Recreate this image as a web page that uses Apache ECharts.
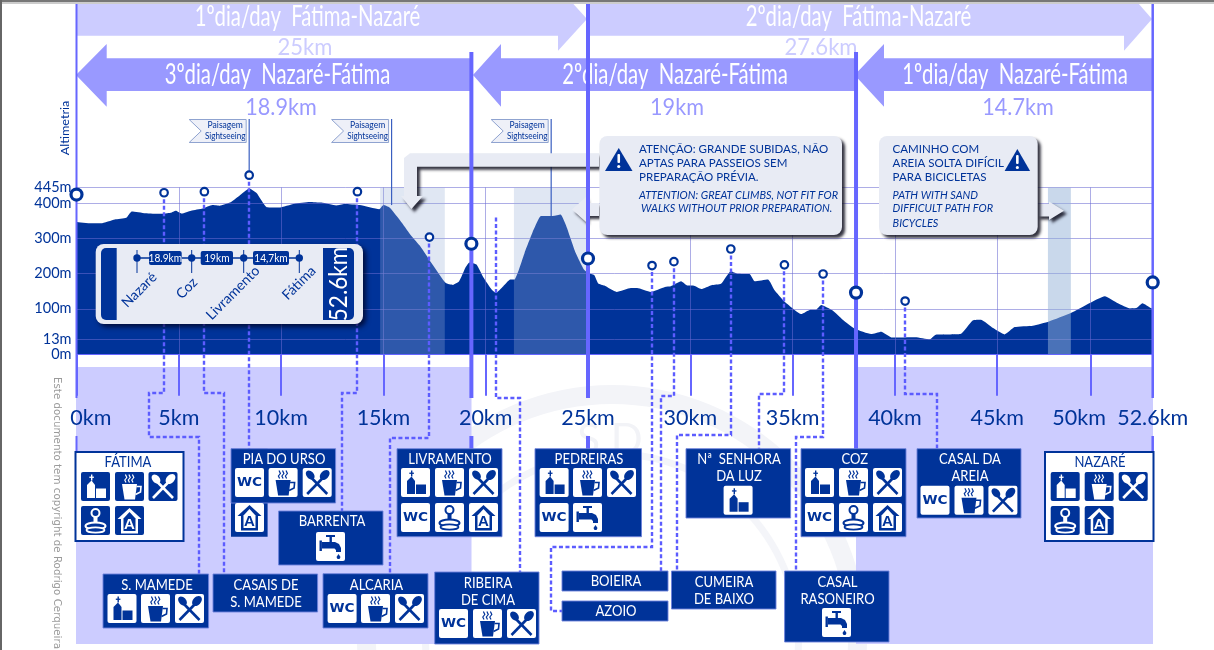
<!DOCTYPE html>
<html><head><meta charset="utf-8">
<style>html,body{margin:0;padding:0;background:#fff}#c{width:1214px;height:650px}</style>
<script src="https://cdn.jsdelivr.net/npm/echarts@6/dist/echarts.min.js"></script>
</head><body><div id="c"></div>
<script>
// ---- data ----
const profileKm=[0,.75,1.2,1.87,2.43,2.7,3.37,4.1,4.6,4.86,5.14,5.6,6.17,6.64,7,7.5,7.95,8.45,8.8,9.3,9.9,10.65,11.4,11.97,12.7,13.1,13.84,14.8,15,15.3,15.9,16.37,16.8,17.4,18.05,18.4,18.7,19,19.2,19.55,19.9,20.3,20.5,20.86,21.2,21.4,21.9,22.35,22.7,23.3,23.66,23.94,24.4,24.8,25,25.3,25.5,25.8,26.4,27.1,27.4,28.07,28.76,29.05,29.55,29.85,30.14,30.54,31.03,31.5,31.98,32.3,32.9,33.15,33.8,34.1,34.6,35.44,35.87,36.13,36.4,36.96,37.45,38.05,38.84,39.33,39.87,41,41.7,42,43.2,43.8,44.2,44.8,45.36,45.85,46.74,47.53,48.6,49.5,50.26,50.9,51.5,51.8,52.1,52.51,52.6];
const profileAlt=[347,343,343,354,359,377,372,370,373,379,371,379,385,395,393,402,421,442,429,389,388,399,404,402,394,398,395,383,395,388,345,307,278,226,173,168,178,216,232,226,188,154,145,164,183,183,259,326,364,364,368,335,259,212,202,196,172,166,148,159,159,148,162,164,178,166,166,156,167,171,207,200,199,178,183,154,121,85,97,97,111,95,69,43,28,35,18,19,13,26,28,67,69,45,27,48,52,64,88,116,136,116,101,102,116,102,100];
const stageKm=[0,19.3,25,38.1,52.6];
const stageAlt=[425,285,243,146,175];
const placeKm=[4.28,6.25,8.44,13.73,17.25,28.13,29.2,31.98,34.6,36.49,40.5];
const placeAlt=[430,433,480,433,304,223,234,270,225,199,122];
const kmTicks=[0,5,10,15,20,25,30,35,40,45,49.55,52.6];
const kmLabelAt=[.7,5,10,15,20,25,30,35,40,45,49,52.6];
const kmLabels=['0km','5km','10km','15km','20km','25km','30km','35km','40km','45km','50km','52.6km'];
const altTicks=[-30.6,13,100,200,300,400,445];
const altLabels=['0m','13m','100m','200m','300m','400m','445m'];
const bandsKm=[[14.84,18,0],[21.38,25,0],[47.48,48.6,1]];
const flagKm=[8.44,15.4,23.2];
const flagAlt=[480,395,364];

const BLUE='#003399',LINE='#6666ff',LAV='#ccccff',MID='#9999ff',PANEL='#e8ebf4',FONT='Lato, "Open Sans", sans-serif';
const chart=echarts.init(document.getElementById('c'),null,{renderer:'canvas'});
const profile=profileKm.map((k,i)=>[k,profileAlt[i]]);
const bandCol=['rgba(151,175,215,0.3)','rgba(148,177,215,0.5)'];
chart.setOption({
  animation:false,backgroundColor:'#fff',
  grid:{left:76.5,right:61.3,top:187.5,height:167.2,containLabel:false},
  xAxis:{type:'value',min:0,max:52.6,z:3,
    axisLine:{show:true,onZero:false,lineStyle:{color:LINE,width:1}},
    axisTick:{show:true,customValues:kmTicks,length:41,lineStyle:{color:LINE,width:2}},
    splitLine:{show:true,lineStyle:{color:'rgba(105,105,210,0.55)',width:1}},
    axisLabel:{customValues:kmLabelAt,margin:52,color:BLUE,fontFamily:FONT,fontSize:21.5,hideOverlap:false,
      formatter:v=>kmLabels[kmLabelAt.indexOf(v)]||''}},
  yAxis:{type:'value',min:-30.6,max:445,z:3,
    axisLine:{show:false},
    axisTick:{show:false,customValues:altTicks},
    splitLine:{show:true,lineStyle:{color:'rgba(105,105,210,0.55)',width:1}},
    axisLabel:{customValues:altTicks,margin:5,color:BLUE,fontFamily:FONT,fontSize:14.5,padding:[0,0,6,0],hideOverlap:false,
      formatter:v=>altLabels[altTicks.indexOf(v)]||''}},
  series:[
    {type:'line',name:'Altimetria',data:profile,showSymbol:false,z:2,smooth:0.15,lineStyle:{width:0},
     areaStyle:{color:BLUE,opacity:1,origin:'start'}},
    {type:'custom',name:'bands',z:3,silent:true,data:bandsKm,encode:{x:[0,1]},
     renderItem:(p,api)=>{const a=api.coord([api.value(0),445]),b=api.coord([api.value(1),-30.6]);
       return {type:'rect',shape:{x:a[0],y:a[1],width:b[0]-a[0],height:b[1]-a[1]},style:{fill:bandCol[api.value(2)]}};}},
    {type:'scatter',name:'stages',data:stageKm.map((k,i)=>[k,stageAlt[i]]),z:7,clip:false,symbolSize:11,
     itemStyle:{color:'#fff',borderColor:BLUE,borderWidth:3.2,opacity:1}},
    {type:'scatter',name:'places',data:placeKm.map((k,i)=>[k,placeAlt[i]]),z:7,clip:false,symbolSize:7.5,
     itemStyle:{color:'#fff',borderColor:BLUE,borderWidth:2.2,opacity:1}}
  ]
});
const X=k=>chart.convertToPixel({xAxisIndex:0},k), Y=a=>chart.convertToPixel({yAxisIndex:0},a);

// ---- graphic helpers ----
const G=[];
function T(text,x,y,size,color,o){o=o||{};
  const el={type:'text',x,y,z:o.z==null?12:o.z,rotation:o.rot||0,scaleX:o.sx||1,scaleY:o.sy||1,silent:true,
   style:{text,fill:color,fontFamily:o.font||FONT,fontSize:size,fontWeight:o.w||'normal',fontStyle:o.i?'italic':'normal',
   textAlign:o.a||'center',align:o.a||'center',textVerticalAlign:'middle',verticalAlign:'middle',opacity:o.op==null?1:o.op}};
  (o.to||G).push(el);
}
function R(x,y,w,h,fill,o){o=o||{};
  const el={type:'rect',z:o.z==null?8:o.z,silent:true,shape:{x,y,width:w,height:h,r:o.r||0},
    style:Object.assign({fill,stroke:o.stroke||null,lineWidth:o.lw||0},o.style||{})};
  (o.to||G).push(el);
}
function P(pts,fill,o){o=o||{};(o.to||G).push({type:'polygon',z:o.z==null?4:o.z,silent:true,shape:{points:pts},
  style:Object.assign({fill,stroke:o.stroke||null,lineWidth:o.lw||0},o.style||{})});}
function L(pts,color,w,o){o=o||{};(o.to||G).push({type:'polyline',z:o.z==null?3:o.z,silent:true,shape:{points:pts},
  style:{stroke:color,lineWidth:w,fill:null,lineDash:o.dash||null}});}
function C(cx,cy,r,fill,o){o=o||{};(o.to||G).push({type:'circle',z:o.z==null?9:o.z,silent:true,shape:{cx,cy,r},
  style:{fill,stroke:o.stroke||null,lineWidth:o.lw||0}});}

const shadow={shadowColor:'rgba(15,15,30,0.85)',shadowBlur:3,shadowOffsetX:3,shadowOffsetY:3};

// ---- icons (29x29 design box) ----
function icon(kind,x,y,size,dark){
  const fg=dark?'#fff':BLUE,bg=dark?BLUE:'#fff',c=[],z=10;
  R(0,0,29,29,bg,{r:2,z:9,to:c});
  if(kind==='church'){
    P([[6,26],[6,13],[10.5,8.5],[14,13],[14,26]],fg,{z,to:c});
    R(10,2.5,1.4,6,fg,{z,to:c});R(8.3,4.6,4.6,1.3,fg,{z,to:c});
    R(15,16.5,10,9.5,fg,{z,to:c});
  }else if(kind==='cup'){
    P([[7,12],[22,12],[20,27.5],[9.5,27.5]],fg,{z,to:c});
    L([[21.5,14.5],[26,14.5],[25.5,20],[20.5,22.5]],fg,1.6,{z,to:c});
    [11,14.5,18].forEach(s=>L([[s,10.5],[s-1.2,8],[s+.8,5.5],[s-.6,2.5]],fg,1.2,{z,to:c}));
  }else if(kind==='food'){
    L([[7,8],[24.5,26]],fg,2.6,{z,to:c});L([[22,8],[4.5,26]],fg,2.6,{z,to:c});
    c.push({type:'ellipse',z,silent:true,x:7.5,y:7,rotation:.75,shape:{cx:0,cy:0,rx:3.6,ry:5.2},style:{fill:fg}});
    c.push({type:'ellipse',z,silent:true,x:22,y:7,rotation:-.75,shape:{cx:0,cy:0,rx:4,ry:5.8},style:{fill:fg}});
  }else if(kind==='wc'){
    T('WC',14.5,15,13,fg,{z,to:c,w:'bold',font:'"DejaVu Sans"',sx:1.05});
  }else if(kind==='stamp'){
    C(14.5,7,4,bg,{z,to:c,stroke:fg,lw:2});
    R(12.5,11,4,6,fg,{z,to:c});
    c.push({type:'ellipse',z,silent:true,shape:{cx:14.5,cy:20,rx:10,ry:3.6},style:{fill:bg,stroke:fg,lineWidth:2}});
    c.push({type:'ellipse',z,silent:true,shape:{cx:14.5,cy:24,rx:9,ry:2.6},style:{fill:bg,stroke:fg,lineWidth:1.8}});
  }else if(kind==='house'){
    P([[14.5,2],[26.5,13],[23,13],[23,27.5],[6,27.5],[6,13],[2.5,13]],fg,{z,to:c});
    P([[14.5,6],[20.5,12.5],[20.5,25],[8.5,25],[8.5,12.5]],bg,{z,to:c});
    T('A',14.5,18.5,15,fg,{z,to:c,w:'bold',font:'"Liberation Sans"'});
  }else if(kind==='tap'){
    R(10,3,9,2,fg,{z,to:c});R(13.5,5,2.4,5,fg,{z,to:c});
    R(3.5,8.5,2.4,10.5,fg,{z,to:c});
    P([[6,10],[19,10],[23,12],[25,16],[25,20],[20,20],[20,18],[18.5,16.5],[6,16.5]],fg,{z,to:c});
    P([[22.5,22],[24.5,25],[23.5,27],[21.5,27],[20.5,25]],fg,{z,to:c});
  }
  G.push({type:'group',x,y,scaleX:size/29,scaleY:size/29,silent:true,children:c});
}
function box(x0,y0,x1,y1,title,titleCx,titleY,cols,rows,icons,o){o=o||{};
  const dark=!!o.white;
  R(x0,y0,x1-x0,y1-y0,dark?'#fff':BLUE,{z:8,stroke:dark?BLUE:'rgba(110,130,220,.9)',lw:dark?2:1});
  title.forEach((t,i)=>T(t,titleCx,titleY+i*17,14.5,dark?BLUE:'#fff',{sx:.9,z:9}));
  icons.forEach((k,i)=>{const col=i%cols.length,row=Math.floor(i/cols.length);icon(k,cols[col],rows[row],29,dark);});
}

// ---- page furniture ----
G.push({type:'ring',z:0,silent:true,shape:{cx:612,cy:640,r:255,r0:236},style:{fill:'#f3f4f8'}});
G.push({type:'ring',z:0,silent:true,shape:{cx:612,cy:640,r:190,r0:183},style:{fill:'#f4f5f9'}});
T('S D',610,440,42,'#f2f3f7',{z:0});
R(76,367,395.5,277,LAV,{z:1});R(856,367,297,277,LAV,{z:1});
R(0,0,1214,2,'#777',{z:20});R(0,2,1214,2,'#ccc',{z:20});R(0,0,2,650,'#666',{z:20});
T('Este documento tem copyright de Rodrigo Cerqueira',56.5,377,10.3,'#9a9a9a',{rot:-Math.PI/2,a:'left',font:'"DejaVu Sans"',z:2});
T('Altimetria',65,128,12,BLUE,{rot:Math.PI/2,sx:1.05});

// ---- stage arrows ----
P([[76,0],[558,0],[558,-13],[587,19],[558,50.7],[558,35.7],[76,35.7]],LAV,{z:3});
P([[588,0],[1124,0],[1124,-13],[1152,19],[1124,50.7],[1124,35.7],[588,35.7]],LAV,{z:3});
[[76,106.7,471],[473,501,856],[854.6,884,1153]].forEach(a=>
  P([[a[0],75],[a[1],44],[a[1],58.3],[a[2],58.3],[a[2],91],[a[1],91],[a[1],106.7]],MID,{z:3}));
const hd={sx:.7,z:4};
T('1ºdia/day  Fátima-Nazaré',307.5,17,29,'#fff',hd);
T('2ºdia/day  Fátima-Nazaré',858.5,17,29,'#fff',hd);
T('3ºdia/day  Nazaré-Fátima',277.5,75,29,'#fff',hd);
T('2ºdia/day  Nazaré-Fátima',675,75,29,'#fff',hd);
T('1ºdia/day  Nazaré-Fátima',1015,75,29,'#fff',hd);
const dd={sx:.92,z:4};
T('25km',305,47,24,LAV,dd);T('27.6km',821,47,24,LAV,dd);
T('18.9km',281,107,23.5,MID,dd);T('19km',677,107,23.5,MID,dd);T('14.7km',1018,107,23.5,MID,dd);

// ---- stage lines (from the km scale) ----
const stageW=[2,4,4,4,2.5],stageTop=[2,52,2,52,2];
stageKm.forEach((k,i)=>{const x=X(k);
  L([[x,stageTop[i]],[x,398]],LINE,stageW[i],{z:5});
  if(i===3)L([[x,398],[x,449]],LINE,stageW[i],{z:5});
  else L([[x,436],[x,i===0||i===4?453:449]],LINE,stageW[i],{z:5});
});

// ---- dashed leaders ----
const dash={dash:[4,2.5],z:3};
const lead=(km,alt,pts)=>{const x=Math.round(X(km));L([[x,Y(alt)]].concat(pts.map(p=>[p[0]==null?x:p[0],p[1]])),'#5c5cff',2.4,dash);};
lead(placeKm[0],placeAlt[0],[[null,393],[149,393],[149,437],[199,437],[199,574]]);
lead(placeKm[1],placeAlt[1],[[null,393],[224,393],[224,574]]);
lead(placeKm[2],placeAlt[2],[[null,449]]);
lead(placeKm[3],placeAlt[3],[[null,393],[342,393],[342,511]]);
lead(placeKm[4],placeAlt[4],[[null,438],[390,438],[390,574]]);
lead(20.5,360,[[null,398],[520,398],[520,572]]);
lead(placeKm[5],placeAlt[5],[[null,547],[551,547],[551,611],[562,611]]);
lead(placeKm[6],placeAlt[6],[[null,396],[661,396],[661,571]]);
lead(placeKm[7],placeAlt[7],[[null,435],[677,435],[677,571]]);
lead(placeKm[8],placeAlt[8],[[null,394],[759,394],[759,449]]);
lead(placeKm[9],placeAlt[9],[[null,437],[796,437],[796,571]]);
lead(placeKm[10],placeAlt[10],[[null,394],[937,394],[937,449]]);

// ---- sightseeing flags ----
flagKm.forEach((k,i)=>{const x=X(k);
  L([[x,119],[x,Y(flagAlt[i])]],'#3a5fc0',1.2,{z:3});
  const r=x-3,l=r-57;
  P([[l,119.5],[r,119.5],[r,142.5],[l,142.5],[l+12,131]],'#eef0f8',{z:3,stroke:'#8fa3d0',lw:1});
  T('Paisagem',r-21,125.5,9,BLUE,{z:3,sx:.95});
  T('Sightseeing',r-21,136,8.5,BLUE,{z:3,sx:.95});
});

// ---- warning callouts ----
P([[599,153.3],[410,153.3],[404,158],[404,196],[401,196],[411.4,209],[423,196],[417,196],[417,166.7],[599,166.7]],PANEL,{z:4,style:shadow});
P([[599,203],[586,203],[586,197],[572,209.5],[586,222],[586,216],[599,216]],PANEL,{z:4,style:shadow});
P([[1037,204],[1049,204],[1049,201.5],[1064,210.7],[1049,220],[1049,216.5],[1037,216.5]],PANEL,{z:4,style:shadow});
R(599.4,136,242.6,99,PANEL,{z:6,r:8,style:shadow});
R(879,136,158.7,99,PANEL,{z:6,r:8,style:shadow});
function warn(x,y,w,h){
  P([[x+w/2,y],[x+w,y+h],[x,y+h]],BLUE,{z:7});
  R(x+w/2-1.3,y+6,2.6,9,'#fff',{z:8,r:1});C(x+w/2,y+18.5,1.6,'#fff',{z:8});
}
warn(605,148,27.5,23);warn(1004.6,149,25.5,22);
const wo={a:'left',z:7,sx:.96},wi={a:'left',z:7,sx:.91,i:true};
[['ATENÇÃO: GRANDE SUBIDAS, NÃO',149],['APTAS PARA PASSEIOS SEM',163],['PREPARAÇÃO PRÉVIA.',177]].forEach(a=>T(a[0],639,a[1],12,BLUE,wo));
[['ATTENTION: GREAT CLIMBS, NOT FIT FOR',639,195],['WALKS WITHOUT PRIOR PREPARATION.',641,208.5]].forEach(a=>T(a[0],a[1],a[2],12,BLUE,wi));
[['CAMINHO COM',149],['AREIA SOLTA DIFÍCIL',163],['PARA BICICLETAS',177]].forEach(a=>T(a[0],892.6,a[1],12,BLUE,wo));
[['PATH WITH SAND',195],['DIFFICULT PATH FOR',208.5],['BICYCLES',223]].forEach(a=>T(a[0],892.6,a[1],12,BLUE,wi));

// ---- summary panel ----
R(95.7,244,267.3,80,PANEL,{z:8,r:8,style:{shadowColor:'rgba(0,0,30,.75)',shadowBlur:5,shadowOffsetX:3,shadowOffsetY:3}});
R(101,248,15.7,72,BLUE,{z:9,r:[5,0,0,5]});
R(323,248,31,72,BLUE,{z:9,r:[0,5,5,0]});
T('52.6km',338.5,284,25,'#fff',{rot:Math.PI/2,z:10,sx:.9});
const nodes=[137,191.7,243.7,299.3];
L([[137,258],[299.3,258]],BLUE,1.5,{z:9});
nodes.forEach(x=>{L([[x,250],[x,273]],BLUE,1,{z:9});C(x,258,3.7,BLUE,{z:9});});
[[149,32.7,'18.9km'],[200.7,32.3,'19km'],[253,36,'14,7km']].forEach(p=>{
  R(p[0],251,p[1],14,BLUE,{z:9,r:2});T(p[2],p[0]+p[1]/2,258,11.5,'#fff',{z:10,sx:.88});});
[['Nazaré',139.3,290],['Coz',186.7,288.3],['Livramento',233,293],['Fátima',299,283]].forEach(n=>
  T(n[0],n[1],n[2],14,BLUE,{rot:Math.PI/4,z:9}));

// ---- service boxes ----
const Ch='church',Cu='cup',Fd='food',Wc='wc',St='stamp',Ho='house',Ta='tap';
box(75.5,452,183.5,541,['FÁTIMA'],128,462,[81,115,148.5],[472,506],[Ch,Cu,Fd,St,Ho],{white:true});
R(231,448.7,36.6,88,BLUE,{z:8});
box(231,448.7,335.6,503,['PIA DO URSO'],284,459,[235,268.6,302.7],[468,503],[Wc,Cu,Fd,Ho]);
box(278.6,511,383,565,['BARRENTA'],332,521.7,[316],[532],[Ta]);
box(397,448.7,502,536.7,['LIVRAMENTO'],450,459,[401,435,469],[468,503],[Ch,Cu,Fd,Wc,St,Ho]);
box(103,574,208.6,628,['S. MAMEDE'],157,585,[107.5,141,175],[594],[Ch,Cu,Fd]);
box(213,574,317.6,612,['CASAIS DE','S. MAMEDE'],266,585,[],[],[]);
box(323,573.7,428,628,['ALCARIA'],376.5,585,[327.6,361,395],[594],[Wc,Cu,Fd]);
box(434.7,572,539,644,['RIBEIRA','DE CIMA'],488,583,[439,473,507],[609],[Wc,Cu,Fd]);
box(535,448.7,641.5,536.7,['PEDREIRAS'],589,459,[539.6,573,607],[468,503],[Ch,Cu,Fd,Wc,Ta]);
box(686,448.7,790.6,518,['Nª  SENHORA','DA LUZ'],739,459,[723.6],[485.7],[Ch]);
box(801,448.7,906,536.7,['COZ'],854.7,459,[805,839,873],[468,503],[Ch,Cu,Fd,Wc,St,Ho]);
box(917,448.7,1021,518,['CASAL DA','AREIA'],970,459,[920.5,954.5,988.4],[485.7],[Wc,Cu,Fd]);
box(1045,452,1153.5,541,['NAZARÉ'],1100,462,[1050.7,1084.7,1118.7],[472,506],[Ch,Cu,Fd,St,Ho],{white:true});
box(562,571,668,591,['BOIEIRA'],616,581,[],[],[]);
box(562,601,668,621,['AZOIO'],616,611,[],[],[]);
box(671.5,571,776,609,['CUMEIRA','DE BAIXO'],724,582,[],[],[]);
box(784.6,571,889,642,['CASAL','RASONEIRO'],837.5,582,[822],[608],[Ta]);

chart.setOption({graphic:{elements:G}});
</script></body></html>
